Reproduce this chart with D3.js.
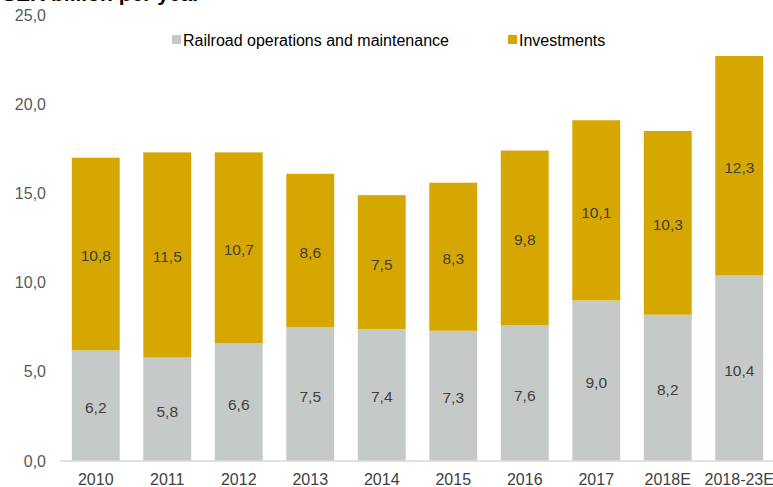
<!DOCTYPE html>
<html>
<head>
<meta charset="utf-8">
<script src="https://cdn.jsdelivr.net/npm/d3@7"></script>
<style>
  html, body { margin: 0; padding: 0; background: #fff; }
  svg { display: block; font-family: "Liberation Sans", Arial, sans-serif; }
</style>
</head>
<body>
<svg id="chart" width="773" height="487"></svg>
<script>
// Annual spending, split into operations/maintenance and investments
const categories = ["2010", "2011", "2012", "2013", "2014", "2015", "2016", "2017", "2018E", "2018-23E"];
const operations = [6.2, 5.8, 6.6, 7.5, 7.4, 7.3, 7.6, 9.0, 8.2, 10.4];
const investments = [10.8, 11.5, 10.7, 8.6, 7.5, 8.3, 9.8, 10.1, 10.3, 12.3];
const yTicks = [0, 5, 10, 15, 20, 25];
const seriesNames = ["Railroad operations and maintenance", "Investments"];
const colors = ["#c5c9c8", "#d6a700"];

const svg = d3.select("#chart");
const fmt = v => d3.format(".1f")(v).replace(".", ",");

const x = d3.scaleBand().domain(categories).range([60, 775])
  .paddingInner(0.33).paddingOuter(0.165);
const y = d3.scaleLinear().domain([0, 25]).range([461, 15]);

// Title, partly above the top edge
svg.append("text").attr("x", 2).attr("y", 1)
  .attr("font-size", 21).attr("font-weight", "bold").attr("fill", "#000")
  .text("SEK billion per year");

// Y axis labels
svg.append("g").selectAll("text").data(yTicks).join("text")
  .attr("x", 46).attr("y", d => y(d)).attr("dy", "0.35em")
  .attr("text-anchor", "end").attr("font-size", 16).attr("fill", "#595959")
  .text(fmt);

// Stacked bars
const rows = categories.map((c, i) => ({ cat: c, vals: [operations[i], investments[i]] }));
const stacked = d3.stack().keys([0, 1]).value((d, k) => d.vals[k])(rows);

stacked.forEach((layer, k) => {
  const g = svg.append("g");
  g.selectAll("rect").data(layer).join("rect")
    .attr("x", d => x(d.data.cat))
    .attr("width", x.bandwidth())
    .attr("y", d => y(d[1]))
    .attr("height", d => y(d[0]) - y(d[1]))
    .attr("fill", colors[k]);
  g.selectAll("text").data(layer).join("text")
    .attr("x", d => x(d.data.cat) + x.bandwidth() / 2)
    .attr("y", d => (y(d[0]) + y(d[1])) / 2 + 2)
    .attr("dy", "0.35em")
    .attr("text-anchor", "middle").attr("font-size", 15.5).attr("fill", "#404040")
    .text(d => fmt(d[1] - d[0]));
});

// Baseline and category labels
svg.append("line").attr("x1", 60).attr("x2", 773)
  .attr("y1", y(0)).attr("y2", y(0)).attr("stroke", "#d9d9d9").attr("stroke-width", 1.5);
svg.append("g").selectAll("text").data(categories).join("text")
  .attr("x", d => x(d) + x.bandwidth() / 2).attr("y", 485)
  .attr("text-anchor", "middle").attr("font-size", 16).attr("fill", "#404040")
  .text(d => d);

// Legend
const legendX = [172, 508];
const lg = svg.append("g").selectAll("g").data(seriesNames).join("g")
  .attr("transform", (d, i) => `translate(${legendX[i]},34)`);
lg.append("rect").attr("width", 9).attr("height", 9).attr("y", 1)
  .attr("fill", (d, i) => colors[i]);
lg.append("text").attr("x", 11).attr("y", 11.5)
  .attr("font-size", 16).attr("fill", "#000").text(d => d);
</script>
</body>
</html>
